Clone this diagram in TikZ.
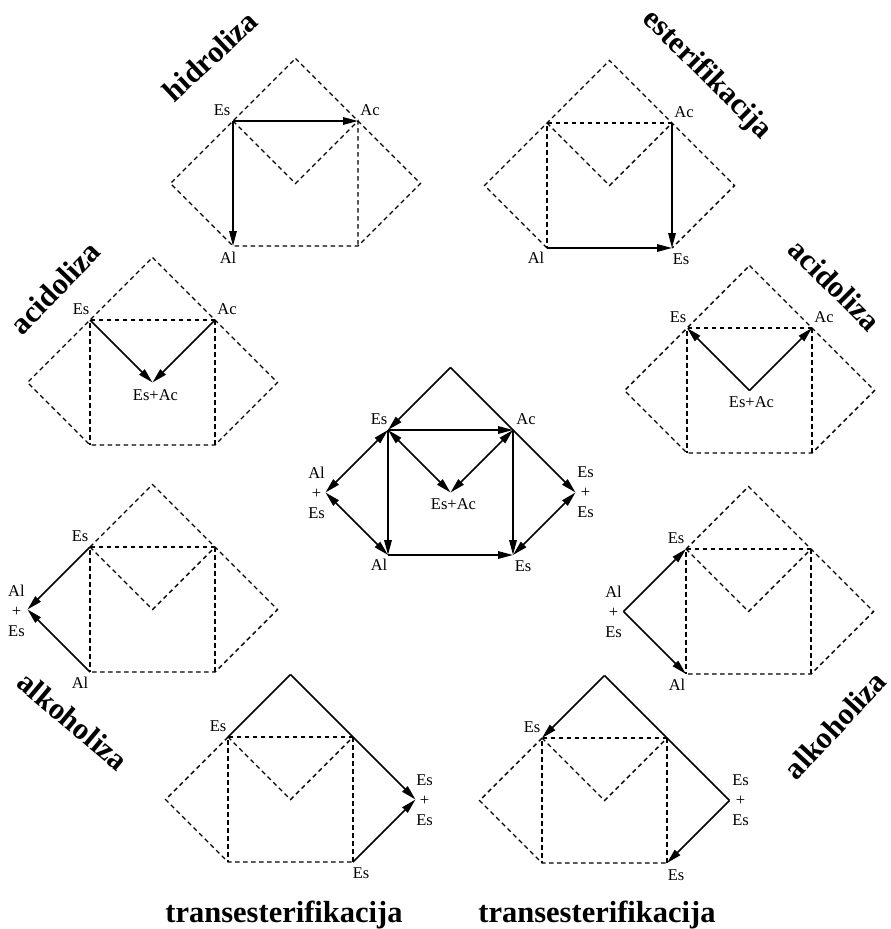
\documentclass[tikz,border=0pt]{standalone}
\usepackage{fontspec}
\setmainfont{Liberation Serif}
\usetikzlibrary{arrows.meta,calc}
\newcommand{\mkhouse}[3]{%
  \begin{scope}[shift={(#2pt,-#3pt)},x=62.5pt,y=-62.5pt]
    \coordinate (#1tl) at (0,0);
    \coordinate (#1tr) at (2,0);
    \coordinate (#1bl) at (0,2);
    \coordinate (#1br) at (2,2);
    \coordinate (#1ap) at (1,-1);
    \coordinate (#1c) at (1,1);
    \coordinate (#1l) at (-1,1);
    \coordinate (#1r) at (3,1);
  \end{scope}}
\begin{document}
\begin{tikzpicture}[x=1pt,y=-1pt,
  dsh/.style={line width=1.4pt, dash pattern=on 4.5pt off 3.5pt},
  sol/.style={line width=1.6pt},
  arr/.style={sol,-{Triangle[length=15pt,width=7.5pt]}},
  darr/.style={sol,{Triangle[length=15pt,width=7.5pt]}-{Triangle[length=15pt,width=7.5pt]}},
  lbl/.style={font=\fontsize{16.5}{20}\selectfont, inner sep=0pt},
  stk/.style={lbl, align=center},
  ttl/.style={font=\fontsize{30.5}{36}\selectfont\bfseries, inner sep=0pt}]
\useasboundingbox (0,0) rectangle (891,929);

% ---------- 1 hidroliza ----------
\mkhouse{h}{233}{121}
\draw[dsh] (hap)--(htr)--(hr)--(hbr)--(hbl)--(hl)--(htl)--cycle;
\draw[dsh] (htl)--(hc)--(htr)--(hbr);
\draw[arr] (htl)--(htr);
\draw[arr] (htl)--(hbl);
\node[lbl] (h1) at ($(htl)+(-11,-11)$) {Es};
\node[lbl] (h2) at ($(htr)+(12,-11)$) {Ac};
\node[lbl] (h3) at ($(hbl)+(-5,12)$) {Al};

% ---------- 2 esterifikacija ----------
\mkhouse{e}{547}{123}
\draw[dsh] (ebl)--(el)--(etl)--(eap)--(etr)--(er)--(ebr);
\draw[dsh] (etl)--(ec)--(etr);
\draw[dsh] (etr)--(etl)--(ebl);
\draw[arr] (etr)--(ebr);
\draw[arr] (ebl)--(ebr);
\node[lbl] (e1) at ($(etr)+(12,-11)$) {Ac};
\node[lbl] (e2) at ($(ebl)+(-11,10)$) {Al};
\node[lbl] (e3) at ($(ebr)+(9,11)$) {Es};

% ---------- 3 acidoliza left ----------
\mkhouse{aa}{90}{320}
\draw[dsh] (aaap)--(aatr)--(aar)--(aabr)--(aabl)--(aal)--(aatl)--cycle;
\draw[dsh] (aatr)--(aatl)--(aabl);
\draw[dsh] (aatr)--(aabr);
\draw[arr] (aatl)--(aac);
\draw[arr] (aatr)--(aac);
\node[lbl] (aa1) at ($(aatl)+(-9,-11)$) {Es};
\node[lbl] (aa2) at ($(aatr)+(12,-11)$) {Ac};
\node[lbl] (aa3) at ($(aac)+(3,13)$) {Es+Ac};

% ---------- 4 acidoliza right ----------
\mkhouse{ab}{687}{328}
\draw[dsh] (abap)--(abtr)--(abr)--(abbr)--(abbl)--(abl)--(abtl)--cycle;
\draw[dsh] (abtr)--(abtl)--(abbl);
\draw[dsh] (abtr)--(abbr);
\draw[arr] (abc)--(abtl);
\draw[arr] (abc)--(abtr);
\node[lbl] (ab1) at ($(abtl)+(-9,-11)$) {Es};
\node[lbl] (ab2) at ($(abtr)+(12,-11)$) {Ac};
\node[lbl] (ab3) at ($(abc)+(2,12)$) {Es+Ac};

% ---------- 5 centre ----------
\mkhouse{c}{388}{430}
\draw[arr] (cap)--(ctl);
\draw[arr] (cap)--(cr);
\draw[arr] (ctl)--(ctr);
\draw[arr] (ctl)--(cbl);
\draw[arr] (ctr)--(cbr);
\draw[arr] (cbl)--(cbr);
\draw[darr] (ctl)--(cc);
\draw[darr] (ctr)--(cc);
\draw[darr] (cl)--(ctl);
\draw[darr] (cl)--(cbl);
\draw[darr] (cr)--(cbr);
\node[lbl] (c1) at ($(ctl)+(-9,-11)$) {Es};
\node[lbl] (c2) at ($(ctr)+(13,-11)$) {Ac};
\node[lbl] (c3) at ($(cbl)+(-9,10)$) {Al};
\node[lbl] (c4) at ($(cbr)+(10,11)$) {Es};
\node[lbl] (c5) at ($(cc)+(3,12)$) {Es+Ac};
\node[stk] (c6) at ($(cl)+(-9,0)$) {Al\\+\\Es};
\node[stk] (c7) at ($(cr)+(10,0)$) {Es\\+\\Es};

% ---------- 6 alkoholiza left ----------
\mkhouse{ka}{90}{547}
\draw[dsh] (katl)--(kaap)--(katr)--(kar)--(kabr)--(kabl);
\draw[dsh] (katl)--(kac)--(katr);
\draw[dsh] (katr)--(katl)--(kabl);
\draw[dsh] (katr)--(kabr);
\draw[arr] (katl)--(kal);
\draw[arr] (kabl)--(kal);
\node[lbl] (ka1) at ($(katl)+(-10,-11)$) {Es};
\node[lbl] (ka2) at ($(kabl)+(-10,11)$) {Al};
\node[stk] (ka3) at ($(kal)+(-11,1)$) {Al\\+\\Es};

% ---------- 7 alkoholiza right ----------
\mkhouse{kb}{686}{549}
\draw[dsh] (kbtl)--(kbap)--(kbtr)--(kbr)--(kbbr)--(kbbl);
\draw[dsh] (kbtl)--(kbc)--(kbtr);
\draw[dsh] (kbtr)--(kbtl)--(kbbl);
\draw[dsh] (kbtr)--(kbbr);
\draw[arr] (kbl)--(kbtl);
\draw[arr] (kbl)--(kbbl);
\node[lbl] (kb1) at ($(kbtl)+(-10,-11)$) {Es};
\node[lbl] (kb2) at ($(kbbl)+(-9,11)$) {Al};
\node[stk] (kb3) at ($(kbl)+(-10,0)$) {Al\\+\\Es};

% ---------- 8 transesterifikacija left ----------
\mkhouse{ta}{228}{737}
\draw[dsh] (tatl)--(tal)--(tabl)--(tabr);
\draw[dsh] (tatl)--(tac)--(tatr);
\draw[dsh] (tatr)--(tatl)--(tabl);
\draw[dsh] (tatr)--(tabr);
\draw[sol] (taap)--(tatl);
\draw[arr] (taap)--(tar);
\draw[arr] (tabr)--(tar);
\node[lbl] (ta1) at ($(tatl)+(-10,-11)$) {Es};
\node[lbl] (ta2) at ($(tabr)+(8,11)$) {Es};
\node[stk] (ta3) at ($(tar)+(9,1)$) {Es\\+\\Es};

% ---------- 9 transesterifikacija right ----------
\mkhouse{tb}{542}{738}
\draw[dsh] (tbtl)--(tbl)--(tbbl)--(tbbr);
\draw[dsh] (tbtl)--(tbc)--(tbtr);
\draw[dsh] (tbtr)--(tbtl)--(tbbl);
\draw[dsh] (tbtr)--(tbbr);
\draw[arr] (tbap)--(tbtl);
\draw[sol] (tbap)--(tbr);
\draw[arr] (tbr)--(tbbr);
\node[lbl] (tb1) at ($(tbtl)+(-10,-11)$) {Es};
\node[lbl] (tb2) at ($(tbbr)+(9,12)$) {Es};
\node[stk] (tb3) at ($(tbr)+(11,0)$) {Es\\+\\Es};

% ---------- titles ----------
\node[ttl, rotate=43] (t1) at (210,56) {hidroliza};
\node[ttl, rotate=-45] (t2) at (707,75) {esterifikacija};
\node[ttl, rotate=46] (t3) at (55,288) {acidoliza};
\node[ttl, rotate=-45] (t4) at (835,285) {acidoliza};
\node[ttl, rotate=-40] (t5) at (73,721) {alkoholiza};
\node[ttl, rotate=47] (t6) at (835,725) {alkoholiza};
\node[ttl, anchor=base] (t7) at (284,922) {transesterifikacija};
\node[ttl, anchor=base] (t8) at (597,922) {transesterifikacija};
\end{tikzpicture}
\end{document}
